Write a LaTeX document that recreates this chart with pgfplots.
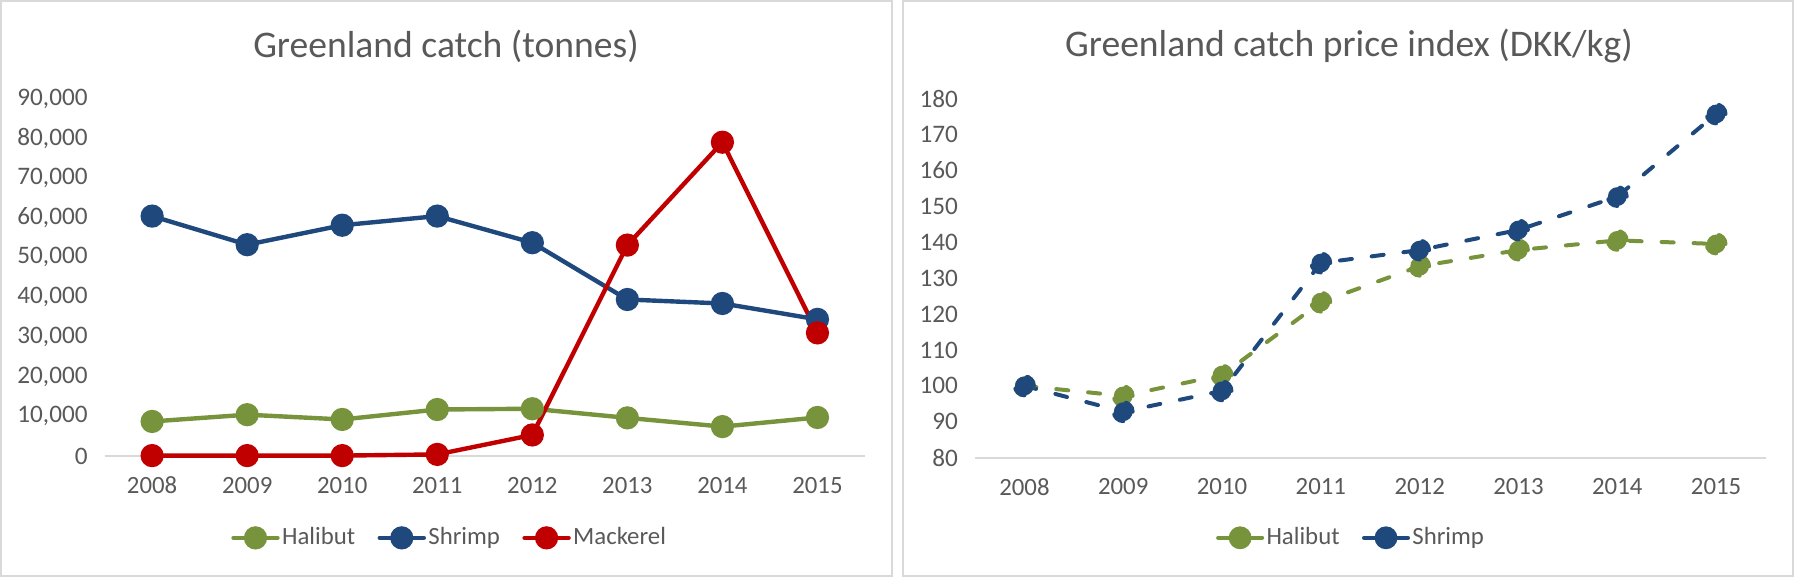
\documentclass[border=0pt]{standalone}
\usepackage{pgfplots}
\pgfplotsset{compat=1.18}
\usepackage{fontspec}
\setmainfont{Carlito}
\definecolor{hal}{HTML}{77933C}
\definecolor{shr}{HTML}{1F497D}
\definecolor{mac}{HTML}{C00000}
\definecolor{txt}{HTML}{595959}
\definecolor{frame}{HTML}{D9D9D9}
\pgfplotsset{
  base/.style={
    scale only axis,
    anchor=south west,
    xmin=-0.5, xmax=7.5,
    xtick={0,...,7},
    xticklabels={2008,2009,2010,2011,2012,2013,2014,2015},
    axis x line*=bottom, axis y line*=left,
    every outer x axis line/.append style={-},
    every outer y axis line/.append style={-},
    x axis line style={-, draw=frame, line width=1.2bp},
    y axis line style={draw=none},
    major tick length=0pt,
    tick style={draw=none},
    ticklabel style={font=\fontsize{12.4bp}{14bp}\selectfont, text=txt},
    yticklabel style={font=\fontsize{12.6bp}{14bp}\selectfont},
    xticklabel style={yshift=-7bp},
    yticklabel style={xshift=-5bp},
    /pgf/number format/assume math mode=true,
    clip=false,
    legend style={draw=none, fill=none, font=\fontsize{12.4bp}{14bp}\selectfont, text=txt,
      anchor=center, legend columns=-1,
      nodes={inner sep=1.2bp},
      /tikz/every even column/.append style={column sep=10bp},
      inner sep=0pt},
    legend cell align=left,
    legend image code/.code={
      \draw[solid, line cap=round, mark repeat=2, mark phase=2] plot coordinates {(0bp,0bp)(11bp,0bp)(22bp,0bp)};
    },
  }
}
\begin{document}
\begin{tikzpicture}
\useasboundingbox (0,0) rectangle (897bp,288.5bp);
\draw[frame, line width=1bp] (0.5bp,0.5bp) rectangle (445.75bp,288bp);
\draw[frame, line width=1bp] (451.5bp,0.5bp) rectangle (896.5bp,288bp);
\node[text=txt, font=\fontsize{18.8bp}{22bp}\selectfont] at (223bp,265.5bp) {Greenland catch (tonnes)};
\node[text=txt, font=\fontsize{18.8bp}{22bp}\selectfont] at (674.5bp,265.5bp) {Greenland catch price index (DKK/kg)};
\begin{axis}[base,
  at={(52.3bp,60.5bp)},
  width=380.2bp, height=178.75bp,
  ymin=0, ymax=90000,
  ytick={0,10000,...,90000},
  scaled y ticks=false,
  yticklabel style={/pgf/number format/.cd, fixed, 1000 sep={,}},
  legend style={at={(0.454,-0.229)}},
  every axis plot/.append style={line width=2.2bp, mark=*, mark size=4.7bp, mark options={solid}},
]
\addplot[hal, mark options={fill=hal}] coordinates {(0,8700)(1,10400)(2,9200)(3,11700)(4,11900)(5,9600)(6,7400)(7,9700)};
\addlegendentry{Halibut}
\addplot[shr, mark options={fill=shr}] coordinates {(0,60400)(1,53200)(2,58100)(3,60400)(4,53700)(5,39400)(6,38400)(7,34400)};
\addlegendentry{Shrimp}
\addplot[mac, mark options={fill=mac}] coordinates {(0,100)(1,100)(2,100)(3,400)(4,5300)(5,53100)(6,79000)(7,31000)};
\addlegendentry{Mackerel}
\end{axis}
\begin{axis}[base,
  at={(487.5bp,59.65bp)},
  width=395.25bp, height=179.6bp,
  ymin=80, ymax=180,
  ytick={80,90,...,180},
  legend style={at={(0.476,-0.223)}},
  every axis plot/.append style={line width=2bp, line cap=round, dash pattern=on 6bp off 10bp, mark=*, mark size=4.7bp, mark options={solid}},
]
\addplot[hal, mark options={fill=hal}] coordinates {(0,100)(1,97.2)(2,103.0)(3,123.3)(4,133.3)(5,137.8)(6,140.5)(7,139.5)};
\addlegendentry{Halibut}
\addplot[shr, mark options={fill=shr}] coordinates {(0,100)(1,92.8)(2,98.6)(3,134.2)(4,137.8)(5,143.4)(6,152.7)(7,175.7)};
\addlegendentry{Shrimp}
\end{axis}
\end{tikzpicture}
\end{document}
